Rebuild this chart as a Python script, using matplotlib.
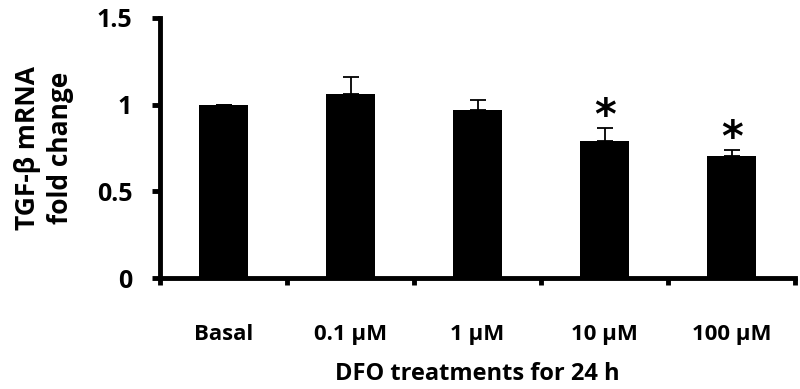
import numpy as np
import matplotlib.pyplot as plt

# DFO treatment groups and TGF-beta mRNA fold change (mean, upper SEM)
groups = ["Basal", "0.1 µM", "1 µM", "10 µM", "100 µM"]
fold_change = [1.0, 1.06, 0.97, 0.79, 0.705]
sem = [0.0, 0.10, 0.055, 0.075, 0.032]
significant = [False, False, False, True, True]

plt.rcParams['font.family'] = ['Open Sans', 'DejaVu Sans']
plt.rcParams['font.weight'] = 'bold'

fig = plt.figure(figsize=(8, 3.89), dpi=100)
ax = fig.add_axes([0.2, 0.285, 0.794, 0.669])

x = np.arange(len(groups))
ax.bar(x, fold_change, width=0.39, color="black", zorder=2)
ax.errorbar(x, fold_change, yerr=[np.zeros(len(sem)), sem], fmt="none",
            ecolor="black", elinewidth=1.3, capsize=6, capthick=1.3, zorder=1)

# significance stars above the error bars
for xi, v, e, s in zip(x, fold_change, sem, significant):
    if s:
        ax.text(xi, v + e + 0.065, "*", ha="center", va="center",
                fontsize=30, fontweight="bold", family="DejaVu Sans")

ax.set_xlim(-0.5, len(groups) - 0.5)
ax.set_ylim(0, 1.5)
ax.set_yticks([0, 0.5, 1, 1.5])
ax.set_yticklabels(["0", "0.5", "1", "1.5"])

# ticks at category boundaries, labels at category centres
ax.set_xticks(np.arange(-0.5, len(groups), 1.0))
ax.set_xticklabels([])
ax.set_xticks(x, minor=True)
ax.set_xticklabels(groups, minor=True)
ax.tick_params(axis="x", which="minor", length=0, pad=33, labelsize=16)
ax.tick_params(axis="x", which="major", length=5, width=3.5, direction="out")
ax.tick_params(axis="y", length=6, width=3.5, direction="out", labelsize=18, pad=14)

for side in ["top", "right"]:
    ax.spines[side].set_visible(False)
for side in ["left", "bottom"]:
    ax.spines[side].set_linewidth(3.5)

ax.set_ylabel("TGF-β mRNA\nfold change", fontsize=19, fontweight="bold",
              labelpad=16, linespacing=1.3)
ax.set_xlabel("DFO treatments for 24 h", fontsize=17, fontweight="bold", labelpad=12)

fig.savefig("out.png", dpi=100)
